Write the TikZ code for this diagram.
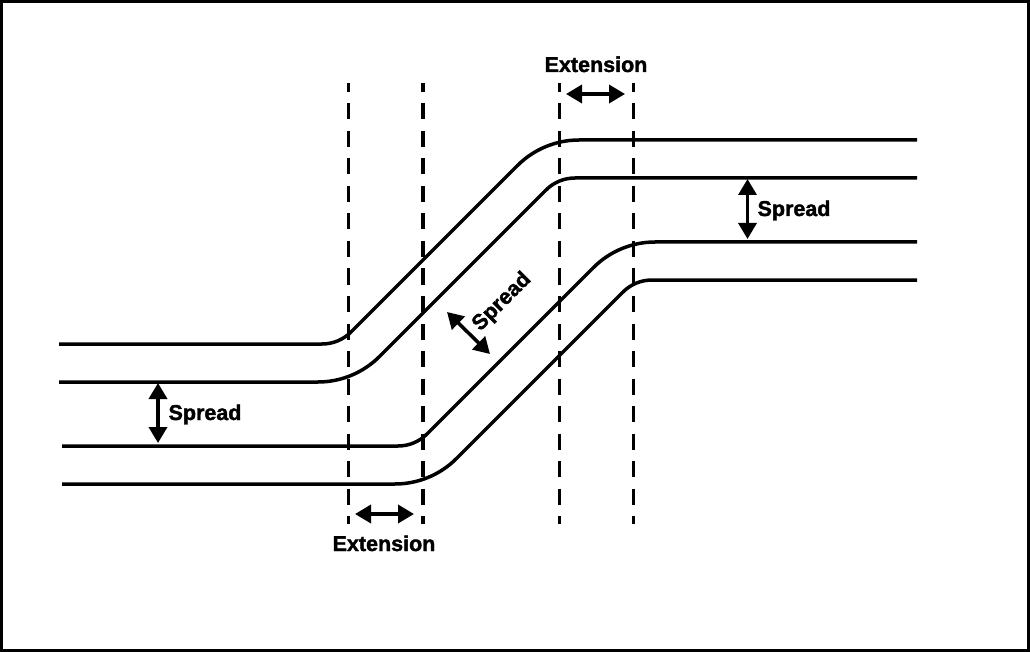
\documentclass[tikz,border=0pt]{standalone}
\usepackage{fontspec}
\setmainfont[BoldFeatures={FakeBold=1.6}]{Liberation Sans}
\usetikzlibrary{arrows.meta}
\tikzset{
    track/.style={line width=3.5pt},
    riseup/.style={out=0, in=225, looseness=.885},
    levelout/.style={out=45, in=180, looseness=.885},
    guide/.style={line width=3.5pt, dash pattern=on 16pt off 11.5pt, dash phase=7pt},
    dimarrow/.style={line width=3.5pt, {Triangle[width=18pt,length=16pt]}-{Triangle[width=18pt,length=16pt]}},
    dimlabel/.style={font=\fontsize{21.5}{24}\selectfont\bfseries, inner sep=0pt, anchor=base}
}

\begin{document}
\begin{tikzpicture}[x=1pt,y=-1pt]
            \useasboundingbox (0,0) rectangle (1030,652);
            \draw[line width=3pt] (1.5,1.5) rectangle (1028.5,650.5);

            \coordinate (A1) at (59,344);
            \coordinate (A2) at (322,344);
            \coordinate (A3) at (351,332);
            \coordinate (A4) at (517.5,165.5);
            \coordinate (A5) at (579,140);
            \coordinate (A6) at (917,140);
            \coordinate (B1) at (59,382);
            \coordinate (B2) at (318,382);
            \coordinate (B3) at (379.5,356.5);
            \coordinate (B4) at (546,190);
            \coordinate (B5) at (575,178);
            \coordinate (B6) at (917,178);
            \coordinate (C1) at (62,446);
            \coordinate (C2) at (398,446);
            \coordinate (C3) at (427,434);
            \coordinate (C4) at (593.5,267.5);
            \coordinate (C5) at (655,242);
            \coordinate (C6) at (917,242);
            \coordinate (D1) at (62,484);
            \coordinate (D2) at (395,484);
            \coordinate (D3) at (456.5,458.5);
            \coordinate (D4) at (623,292);
            \coordinate (D5) at (652,280);
            \coordinate (D6) at (917,280);

            \draw[track] (A1)-- (A2) to[riseup] (A3)-- (A4) to[levelout] (A5)-- (A6);
            \draw[track] (B1)-- (B2) to[riseup] (B3)-- (B4) to[levelout] (B5)-- (B6);
            \draw[track] (C1)-- (C2) to[riseup] (C3)-- (C4) to[levelout] (C5)-- (C6);
            \draw[track] (D1)-- (D2) to[riseup] (D3)-- (D4) to[levelout] (D5)-- (D6);

            \foreach \x/\name in {348.3/p, 422.8/q, 559.4/r, 633.7/s} {
                \coordinate (\name top) at (\x,83);
                \coordinate (\name bot) at (\x,524);
                \draw[guide] (\name top) -- (\name bot);
            }

            \coordinate (E1) at (355,514);
            \coordinate (E2) at (414,514);
            \coordinate (F1) at (566,94);
            \coordinate (F2) at (625,94);
            \coordinate (G1) at (158,383);
            \coordinate (G2) at (158,443);
            \coordinate (H1) at (747.5,179);
            \coordinate (H2) at (747.5,239);
            \coordinate (K1) at (447,312);
            \coordinate (K2) at (490,354);

            \draw[dimarrow] (E1)-- (E2);
            \draw[dimarrow] (F1)-- (F2);
            \draw[dimarrow] (G1)-- (G2);
            \draw[dimarrow] (H1)-- (H2);
            \draw[dimarrow] (K1)-- (K2);

            \node[dimlabel] (ext1) at (384,551) {Extension};
            \node[dimlabel] (ext2) at (596,72) {Extension};
            \node[dimlabel] (spr1) at (205,420) {Spread};
            \node[dimlabel] (spr2) at (794,216) {Spread};
            \node[dimlabel, rotate=45] (spr3) at (506,306) {Spread};
        \end{tikzpicture}
\end{document}
